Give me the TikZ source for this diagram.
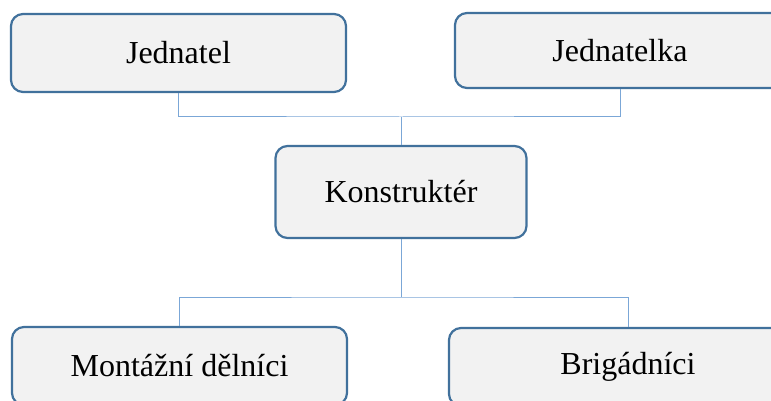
\documentclass[tikz,border=0pt]{standalone}
\usepackage{fontspec}
\setmainfont{Liberation Serif}
\usetikzlibrary{positioning}

\definecolor{boxline}{HTML}{41719C}
\definecolor{boxfill}{HTML}{F2F2F2}
\definecolor{linkline}{HTML}{7BA7D7}

\tikzset{
	role/.style={draw=boxline, fill=boxfill, line width=2.2pt, rounded corners=12pt,
		inner sep=0pt, font=\fontsize{32}{38}\selectfont},
	link/.style={draw=linkline, line width=1pt}
}

\begin{document}
\begin{tikzpicture}[x=1pt, y=-1pt]
 	\clip (0,0) rectangle (771,401);
	\fill[white] (0,0) rectangle (771,401);
	% boxes
	\node[role, minimum width=335pt, minimum height=78pt] (jednatel) at (178.5,53) {Jednatel};
	\node[role, minimum width=330pt, minimum height=75pt] (jednatelka) at (620,50.5) {Jednatelka};
	\node[role, minimum width=251pt, minimum height=92pt] (konstrukter) at (401,192) {Konstrukt\'er};
	\node[role, minimum width=335pt, minimum height=78pt] (montazni) at (179.5,366) {Mont\'a\v{z}n\'i d\v{e}ln\'ici};
	\node[role, minimum width=358pt, minimum height=78pt] (brigadnici) at (628,367) {Brig\'adn\'ici};
	% connectors
	\coordinate (upper bus) at (401,117);
	\coordinate (lower bus) at (401,297);
	\draw[link] (jednatel.south) |- (upper bus) -| (jednatelka.south);
	\draw[link] (upper bus) -- (konstrukter.north);
	\draw[link] (konstrukter.south) -- (lower bus);
	\draw[link] (montazni.north) |- (lower bus) -| (brigadnici.north);
\end{tikzpicture}
\end{document}
